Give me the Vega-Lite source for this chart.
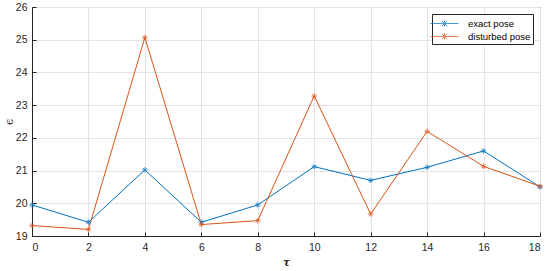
{
  "$schema": "https://vega.github.io/schema/vega-lite/v6.json",
  "autosize": "none",
  "width": 508,
  "height": 229,
  "padding": {"left": 32, "top": 7, "right": 10, "bottom": 35},
  "background": "white",
  "config": {
    "view": {"stroke": "#262626", "strokeWidth": 1},
    "font": "Liberation Sans",
    "axis": {
      "domainColor": "#262626",
      "tickColor": "#262626",
      "labelColor": "#262626",
      "labelFontSize": 10.5,
      "gridColor": "#e3e3e3",
      "gridOpacity": 1,
      "tickSize": -4,
      "titleColor": "#262626"
    }
  },
  "data": {"values": [
    {"tau": 0, "eps": 19.95, "s": "exact pose"},
    {"tau": 2, "eps": 19.42, "s": "exact pose"},
    {"tau": 4, "eps": 21.02, "s": "exact pose"},
    {"tau": 6, "eps": 19.42, "s": "exact pose"},
    {"tau": 8, "eps": 19.95, "s": "exact pose"},
    {"tau": 10, "eps": 21.12, "s": "exact pose"},
    {"tau": 12, "eps": 20.7, "s": "exact pose"},
    {"tau": 14, "eps": 21.1, "s": "exact pose"},
    {"tau": 16, "eps": 21.6, "s": "exact pose"},
    {"tau": 18, "eps": 20.5, "s": "exact pose"},
    {"tau": 0, "eps": 19.32, "s": "disturbed pose"},
    {"tau": 2, "eps": 19.2, "s": "disturbed pose"},
    {"tau": 4, "eps": 25.07, "s": "disturbed pose"},
    {"tau": 6, "eps": 19.35, "s": "disturbed pose"},
    {"tau": 8, "eps": 19.47, "s": "disturbed pose"},
    {"tau": 10, "eps": 23.28, "s": "disturbed pose"},
    {"tau": 12, "eps": 19.67, "s": "disturbed pose"},
    {"tau": 14, "eps": 22.2, "s": "disturbed pose"},
    {"tau": 16, "eps": 21.13, "s": "disturbed pose"},
    {"tau": 18, "eps": 20.52, "s": "disturbed pose"}
  ]},
  "encoding": {
    "x": {"field": "tau", "type": "quantitative",
      "scale": {"domain": [0, 18], "nice": false, "zero": false},
      "axis": {"values": [0,2,4,6,8,10,12,14,16,18], "title": "τ", "titleFont": "DejaVu Serif", "titleFontStyle": "italic", "titleFontSize": 11, "titleFontWeight": "bold", "labelPadding": 10, "titlePadding": 4}},
    "y": {"field": "eps", "type": "quantitative",
      "scale": {"domain": [19, 26], "nice": false, "zero": false},
      "axis": {"values": [19,20,21,22,23,24,25,26], "title": "ϵ", "titleFont": "DejaVu Serif", "titleFontSize": 11, "titleFontWeight": "normal", "labelPadding": 9, "titlePadding": 1}},
    "color": {"field": "s", "type": "nominal",
      "scale": {"domain": ["exact pose", "disturbed pose"], "range": ["#0072BD", "#D95319"]},
      "legend": {"title": null, "orient": "none", "legendX": 400, "legendY": 7,
        "strokeColor": "#262626", "fillColor": "white", "padding": 2,
        "symbolType": "M-2,0L2,0M-0.4,-0.4L0.4,0.4M-0.4,0.4L0.4,-0.4M0,-0.45L0,0.45",
        "symbolSize": 196, "symbolStrokeWidth": 1, "symbolFillColor": "transparent",
        "labelFontSize": 9.5, "labelColor": "#000", "rowPadding": 0, "symbolOffset": 3, "labelOffset": 16}}
  },
  "layer": [
    {"mark": {"type": "line", "strokeWidth": 1}},
    {"mark": {"type": "point", "filled": false, "size": 30, "strokeWidth": 1,
      "shape": "M-1,0L1,0M0,-1L0,1M-0.7,-0.7L0.7,0.7M-0.7,0.7L0.7,-0.7"}}
  ]
}
